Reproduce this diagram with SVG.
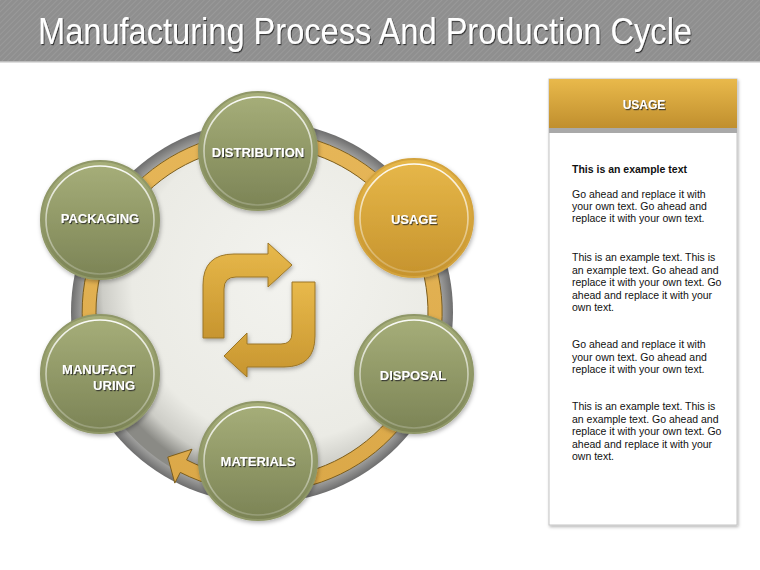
<svg xmlns="http://www.w3.org/2000/svg" width="760" height="570" viewBox="0 0 760 570">
<defs>
  <pattern id="hatch" width="4" height="4" patternUnits="userSpaceOnUse" patternTransform="rotate(45)">
    <rect width="4" height="4" fill="#8f8f8f"/>
    <line x1="0" y1="0" x2="0" y2="4" stroke="#9c9c9c" stroke-width="1.5"/>
  </pattern>
  <filter id="txtShadow" x="-10%" y="-30%" width="120%" height="160%">
    <feDropShadow dx="1" dy="1.2" stdDeviation="0.6" flood-color="#2a2a2a" flood-opacity="0.85"/>
  </filter>
  <filter id="nodeShadow" x="-20%" y="-20%" width="140%" height="140%">
    <feDropShadow dx="1" dy="2" stdDeviation="2" flood-color="#000" flood-opacity="0.3"/>
  </filter>
  <filter id="panelShadow" x="-10%" y="-5%" width="120%" height="110%">
    <feDropShadow dx="1" dy="1.5" stdDeviation="1.5" flood-color="#000" flood-opacity="0.3"/>
  </filter>
  <radialGradient id="grayRing" cx="0.5" cy="0.5" r="0.5">
    <stop offset="0.9" stop-color="#c4c4c1"/>
    <stop offset="1" stop-color="#6e6e6e"/>
  </radialGradient>
  <radialGradient id="discFill" cx="0.56" cy="0.44" r="0.55" fx="0.6" fy="0.38">
    <stop offset="0" stop-color="#f3f3ef"/>
    <stop offset="0.78" stop-color="#ebebe5"/>
    <stop offset="0.92" stop-color="#cdcdc7"/>
    <stop offset="1" stop-color="#8a8a85"/>
  </radialGradient>
  <linearGradient id="goldBand" x1="0" y1="0" x2="0" y2="1">
    <stop offset="0" stop-color="#e6b658"/>
    <stop offset="1" stop-color="#dba848"/>
  </linearGradient>
  <linearGradient id="goldIcon" x1="0" y1="0" x2="0" y2="1">
    <stop offset="0" stop-color="#e8b94b"/>
    <stop offset="1" stop-color="#c7952f"/>
  </linearGradient>
  <linearGradient id="olive" x1="0" y1="0" x2="0" y2="1">
    <stop offset="0" stop-color="#a7af7a"/>
    <stop offset="1" stop-color="#7b8355"/>
  </linearGradient>
  <linearGradient id="goldNode" x1="0" y1="0" x2="0" y2="1">
    <stop offset="0" stop-color="#e7b84a"/>
    <stop offset="1" stop-color="#c6932d"/>
  </linearGradient>
  <linearGradient id="innerRing" x1="0" y1="0" x2="0" y2="1">
    <stop offset="0" stop-color="#ffffff" stop-opacity="0.95"/>
    <stop offset="0.6" stop-color="#ffffff" stop-opacity="0.45"/>
    <stop offset="1" stop-color="#ffffff" stop-opacity="0.2"/>
  </linearGradient>
  <linearGradient id="panelHead" x1="0" y1="0" x2="0" y2="1">
    <stop offset="0" stop-color="#e9b94b"/>
    <stop offset="1" stop-color="#c08f2e"/>
  </linearGradient>
</defs>
<style>
  .nodeTxt { font-family: "Liberation Sans", Arial, sans-serif; font-weight: bold; font-size: 13px; fill: #ffffff; text-anchor: middle; }
  .oliveC { fill: url(#olive); stroke: #8f9767; stroke-width: 2; }
  .goldC { fill: url(#goldNode); stroke: #d3a33e; stroke-width: 2; }
  .ring { fill: none; stroke: url(#innerRing); stroke-width: 1.6; }
  .body { font-family: "Liberation Sans", Arial, sans-serif; font-size: 10.5px; fill: #111111; }
</style>

<rect width="760" height="570" fill="#ffffff"/>

<!-- header -->
<g id="header">
  <rect x="0" y="0" width="760" height="62" fill="url(#hatch)"/>
  <rect x="0" y="61" width="760" height="1.5" fill="#bdbdbd"/>
  <text x="38" y="44" font-family="Liberation Sans, Arial, sans-serif" font-size="36" fill="#ffffff" textLength="654" lengthAdjust="spacingAndGlyphs" filter="url(#txtShadow)">Manufacturing Process And Production Cycle</text>
</g>

<!-- cycle background -->
<g id="cycle">
  <circle cx="262" cy="312" r="191" fill="url(#grayRing)"/>
  <circle cx="262" cy="312" r="180" fill="url(#discFill)"/>
</g>

<!-- connectors -->
<g id="connectors">
  <path d="M93.2,374.2 A180,180 0 1 1 180.3,472.4 L174.8,483.1 L167.8,457.1 L192.0,449.2 L186.6,459.9 A166,166 0 1 0 106.0,368.8 Z" fill="url(#goldBand)" stroke="#7d5e1c" stroke-width="1"/>
</g>

<!-- central icon -->
<g id="icon" filter="url(#nodeShadow)">
  <path d="M203,338 L203,285 Q203,254 234,254 L268,254 L268,243 L292,265 L268,287 L268,277 L236,277 Q224,277 224,289 L224,338 Z" fill="url(#goldIcon)" stroke="#9b7628" stroke-width="1"/>
  <path d="M315,282 L315,336 Q315,367 284,367 L247,367 L247,377 L224,356 L247,333 L247,344 L281,344 Q292,344 292,333 L292,282 Z" fill="url(#goldIcon)" stroke="#9b7628" stroke-width="1"/>
</g>

<!-- nodes -->
<g id="node-distribution" filter="url(#nodeShadow)">
  <circle cx="258" cy="151" r="59" class="oliveC"/>
  <circle cx="258" cy="151" r="54" class="ring"/>
  <text x="258" y="156.5" class="nodeTxt" filter="url(#txtShadow)">DISTRIBUTION</text>
</g>
<g id="node-packaging" filter="url(#nodeShadow)">
  <circle cx="100" cy="220" r="59" class="oliveC"/>
  <circle cx="100" cy="220" r="54" class="ring"/>
  <text x="100" y="223" class="nodeTxt" filter="url(#txtShadow)">PACKAGING</text>
</g>
<g id="node-usage" filter="url(#nodeShadow)">
  <circle cx="414" cy="218" r="59" class="goldC"/>
  <circle cx="414" cy="218" r="54" class="ring"/>
  <text x="414" y="224" class="nodeTxt" filter="url(#txtShadow)">USAGE</text>
</g>
<g id="node-manufacturing" filter="url(#nodeShadow)">
  <circle cx="100" cy="374" r="59" class="oliveC"/>
  <circle cx="100" cy="374" r="54" class="ring"/>
  <text x="135" y="374" class="nodeTxt" style="text-anchor:end" filter="url(#txtShadow)">MANUFACT</text>
  <text x="135" y="390" class="nodeTxt" style="text-anchor:end" filter="url(#txtShadow)">URING</text>
</g>
<g id="node-disposal" filter="url(#nodeShadow)">
  <circle cx="414" cy="374" r="59" class="oliveC"/>
  <circle cx="414" cy="374" r="54" class="ring"/>
  <text x="413" y="380" class="nodeTxt" filter="url(#txtShadow)">DISPOSAL</text>
</g>
<g id="node-materials" filter="url(#nodeShadow)">
  <circle cx="258" cy="461" r="59" class="oliveC"/>
  <circle cx="258" cy="461" r="54" class="ring"/>
  <text x="258" y="466" class="nodeTxt" filter="url(#txtShadow)">MATERIALS</text>
</g>

<!-- side panel -->
<g id="panel">
  <rect x="549" y="79" width="188" height="446" fill="#ffffff" stroke="#c4c4c4" stroke-width="1" filter="url(#panelShadow)"/>
  <rect x="549" y="79" width="188" height="49" fill="url(#panelHead)"/>
  <rect x="549" y="128" width="188" height="5" fill="#a9a9a9"/>
  <text x="644" y="108.5" font-family="Liberation Sans, Arial, sans-serif" font-weight="bold" font-size="12" fill="#ffffff" text-anchor="middle" filter="url(#txtShadow)">USAGE</text>
  <text x="572" y="173" class="body" font-weight="bold">This is an example text</text>
  <text class="body">
    <tspan x="572" y="198">Go ahead and replace it with</tspan>
    <tspan x="572" y="210">your own text. Go ahead and</tspan>
    <tspan x="572" y="222">replace it with your own text.</tspan>
  </text>
  <text class="body">
    <tspan x="572" y="261">This is an example text. This is</tspan>
    <tspan x="572" y="273.5">an example text. Go ahead and</tspan>
    <tspan x="572" y="286">replace it with your own text. Go</tspan>
    <tspan x="572" y="298.5">ahead and replace it with your</tspan>
    <tspan x="572" y="311">own text.</tspan>
  </text>
  <text class="body">
    <tspan x="572" y="348">Go ahead and replace it with</tspan>
    <tspan x="572" y="360.5">your own text. Go ahead and</tspan>
    <tspan x="572" y="373">replace it with your own text.</tspan>
  </text>
  <text class="body">
    <tspan x="572" y="410">This is an example text. This is</tspan>
    <tspan x="572" y="422.5">an example text. Go ahead and</tspan>
    <tspan x="572" y="435">replace it with your own text. Go</tspan>
    <tspan x="572" y="447.5">ahead and replace it with your</tspan>
    <tspan x="572" y="460">own text.</tspan>
  </text>
</g>
</svg>
